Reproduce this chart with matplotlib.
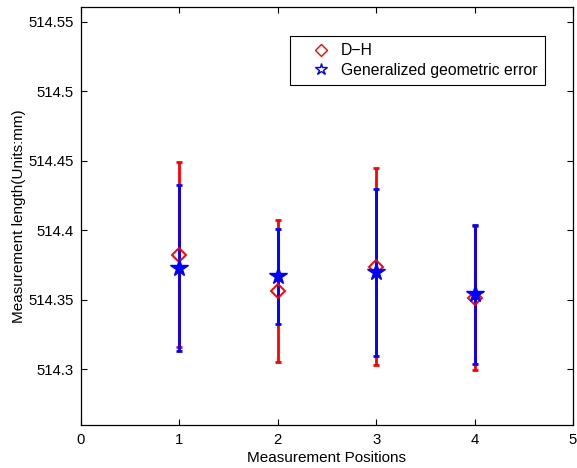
import numpy as np
import matplotlib.pyplot as plt
from matplotlib.ticker import FormatStrFormatter

plt.rcParams['font.family'] = ['Liberation Sans', 'DejaVu Sans']

# measurement positions
positions = [1, 2, 3, 4]

# D-H model: mean length and error half-width
dh_mean = [514.3825, 514.3565, 514.374, 514.3515]
dh_err = [0.0665, 0.051, 0.071, 0.052]

# generalized geometric error model
gge_mean = [514.373, 514.367, 514.370, 514.354]
gge_err = [0.060, 0.034, 0.060, 0.050]

fig = plt.figure(figsize=(5.77, 4.68), dpi=100)
ax = fig.add_axes([0.1404, 0.0919, 0.8526, 0.8938])

ax.errorbar(positions, dh_mean, yerr=dh_err, fmt='none', ecolor='red',
            elinewidth=2, capsize=2.3, capthick=2)
ax.errorbar(positions, gge_mean, yerr=gge_err, fmt='none', ecolor='blue',
            elinewidth=2, capsize=2.3, capthick=2)
ax.plot(positions, dh_mean, linestyle='none', marker='D', markersize=7.5,
        markerfacecolor='none', markeredgecolor='red', markeredgewidth=1.4)
ax.plot(positions, gge_mean, linestyle='none', marker='*', markersize=13,
        markerfacecolor='blue', markeredgecolor='blue')

# legend entries use hollow markers only
h1, = ax.plot([], [], linestyle='none', marker='D', markersize=6,
              markerfacecolor='none', markeredgecolor='red', label='D\u2212H')
h2, = ax.plot([], [], linestyle='none', marker='*', markersize=9,
              markerfacecolor='none', markeredgecolor='blue',
              label='Generalized geometric error')
leg = ax.legend(handles=[h1, h2], loc='upper right',
                bbox_to_anchor=(0.943, 0.930), borderaxespad=0,
                fancybox=False, framealpha=1, edgecolor='black', fontsize=11.3,
                borderpad=0.45, handlelength=3.0, handletextpad=-0.2,
                labelspacing=0.3)
leg.get_frame().set_linewidth(0.8)

ax.set_xlim(0, 5)
ax.set_ylim(514.26, 514.561)
ax.set_xticks([0, 1, 2, 3, 4, 5])
ax.set_yticks(np.arange(514.3, 514.551, 0.05))
ax.yaxis.set_major_formatter(FormatStrFormatter('%g'))
ax.tick_params(direction='in', top=True, right=True, labelsize=10.7,
               length=4, width=0.8, pad=6)
ax.tick_params(axis='y', pad=5)
for sp in ax.spines.values():
    sp.set_linewidth(0.9)

ax.set_xlabel('Measurement Positions', fontsize=11, labelpad=3)
ax.set_ylabel('Measurement length(Units:mm)', fontsize=11, labelpad=2)

fig.savefig('out.png', dpi=100)
